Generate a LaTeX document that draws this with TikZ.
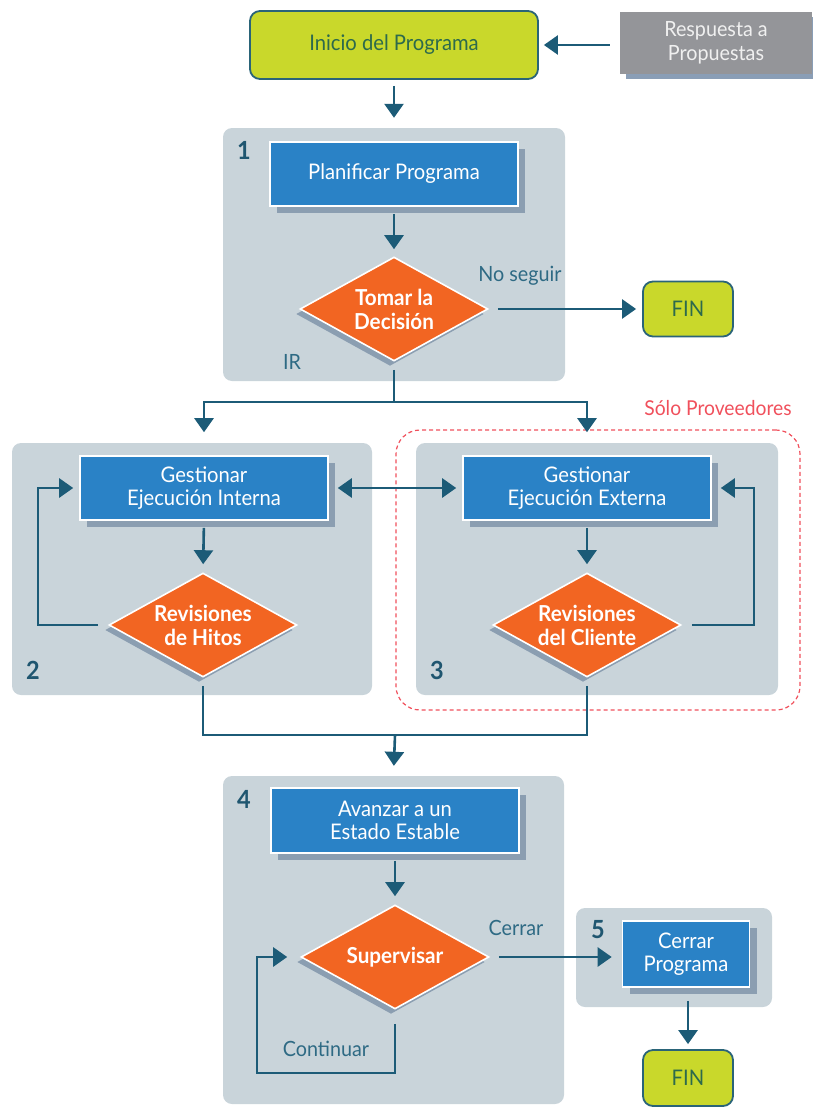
\documentclass[tikz,border=0pt]{standalone}
\usepackage{fontspec}
\newfontfamily\chartfont{Lato}[FakeStretch=0.94]
\usetikzlibrary{arrows.meta,shapes.geometric,shadows}

\definecolor{limefill}{HTML}{C9D82B}
\definecolor{limeedge}{HTML}{2A6478}
\definecolor{limetext}{HTML}{2D6A4C}
\definecolor{panelgray}{HTML}{C9D4DA}
\definecolor{procblue}{HTML}{2A82C6}
\definecolor{boxshade}{HTML}{8B9EB1}
\definecolor{decorange}{HTML}{F26522}
\definecolor{flowteal}{HTML}{1C5B77}
\definecolor{labelteal}{HTML}{2E6A84}
\definecolor{numteal}{HTML}{1F5670}
\definecolor{respgray}{HTML}{949599}
\definecolor{respshade}{HTML}{8A9EB6}
\definecolor{provred}{HTML}{F0505C}

\tikzset{
  panel/.style={fill=panelgray, rounded corners=9pt, inner sep=0pt},
  startbox/.style={draw=limeedge, line width=1.8pt, fill=limefill, rounded corners=10pt,
    text=limetext, align=center, inner sep=0pt,
    font=\chartfont\fontsize{21.5}{24}\selectfont},
  respbox/.style={fill=respgray, text=white!94!black, align=center, inner sep=0pt,
    minimum width=192pt, minimum height=62pt,
    drop shadow={shadow xshift=6pt, shadow yshift=-5pt, fill=respshade, opacity=1},
    font=\chartfont\fontsize{21}{24}\selectfont},
  procbox/.style={draw=white, line width=1.6pt, fill=procblue, text=white, align=center,
    inner sep=0pt, minimum width=248pt, minimum height=64pt,
    drop shadow={shadow xshift=7pt, shadow yshift=-7pt, fill=boxshade, opacity=1},
    font=\chartfont\fontsize{21.5}{23.5}\selectfont},
  decision/.style={diamond, aspect=1.8, draw=white, line width=1.6pt, fill=decorange,
    text=white, align=center, inner sep=0pt, minimum width=188pt, minimum height=104pt,
    drop shadow={shadow xshift=-4pt, shadow yshift=-5pt, fill=boxshade, opacity=1},
    font=\chartfont\bfseries\fontsize{22}{24}\selectfont},
  flowlabel/.style={text=labelteal, inner sep=0pt, font=\chartfont\fontsize{21}{24}\selectfont},
  stagenum/.style={text=numteal, inner sep=0pt, font=\chartfont\bfseries\fontsize{25}{25}\selectfont},
  provbox/.style={draw=provred, line width=1.2pt, dash pattern=on 4pt off 3pt,
    rounded corners=24pt, inner sep=0pt},
  flow/.style={draw=flowteal, line width=2.6pt},
  arr/.style={flow, -{Triangle[width=19pt,length=14pt]}},
  darr/.style={flow, {Triangle[width=19pt,length=14pt]}-{Triangle[width=19pt,length=14pt]}},
}

\begin{document}
\begin{tikzpicture}[x=1pt,y=-1pt]
\useasboundingbox (0,0) rectangle (813,1108);

% stage panels
\node[panel, minimum width=342pt, minimum height=253pt] (p1) at (394,254.5) {};
\node[panel, minimum width=360pt, minimum height=252pt] (p2) at (192,569) {};
\node[panel, minimum width=362pt, minimum height=252pt] (p3) at (597,569) {};
\node[panel, minimum width=341pt, minimum height=328pt] (p4) at (393.5,940) {};
\node[panel, minimum width=196pt, minimum height=99pt] (p5) at (674,957.5) {};

% suppliers-only frame
\node[provbox, minimum width=404pt, minimum height=280pt] (prov) at (598,570) {};
\node[text=provred, inner sep=0pt, font=\chartfont\fontsize{20.5}{22}\selectfont]
  (provlbl) at (718,408) {Sólo Proveedores};

% stage numbers
\node[stagenum] (n1) at (244,150) {1};
\node[stagenum] (n2) at (33,670) {2};
\node[stagenum] (n3) at (437,670) {3};
\node[stagenum] (n4) at (244,799) {4};
\node[stagenum] (n5) at (598,930) {5};

% start and inputs
\node[startbox, minimum width=288pt, minimum height=68pt] (inicio) at (394,45) {Inicio del Programa};
\node[respbox] (resp) at (716,43) {Respuesta a\\Propuestas};

% stage 1
\node[procbox] (plan) at (394,174) {Planificar Programa};
\node[decision] (dec) at (394,309) {Tomar la\\Decisión};
\node[startbox, minimum width=90pt, minimum height=55pt] (fin1) at (688,309) {FIN};
\node[flowlabel] (noseg) at (520,276) {No seguir};
\node[flowlabel] (ir) at (292,362) {IR};

% stages 2 and 3
\node[procbox] (interna) at (204,488) {Gestionar\\Ejecución Interna};
\node[decision] (hitos) at (203,625) {Revisiones\\de Hitos};
\node[procbox] (externa) at (587,488) {Gestionar\\Ejecución Externa};
\node[decision] (cliente) at (587,625) {Revisiones\\del Cliente};

% stage 4
\node[procbox, minimum height=65pt] (avanzar) at (395,820.5) {Avanzar a un\\Estado Estable};
\node[decision] (sup) at (395,957) {Supervisar};
\node[flowlabel] (cerrarlbl) at (516,928) {Cerrar};
\node[flowlabel] (contlbl) at (326,1049) {Continuar};

% stage 5
\node[procbox, minimum width=127pt, minimum height=66pt] (cerrar) at (686,954) {Cerrar\\Programa};
\node[startbox, minimum width=90pt, minimum height=56pt] (fin2) at (688,1078) {FIN};

% junction points
\coordinate (j1) at (394,402);
\coordinate (j2) at (395,735);
\coordinate (hl) at (38,625);
\coordinate (cr) at (754,625);
\coordinate (sb) at (395,1073);
\coordinate (sl) at (257,1073);

% connectors
\draw[arr, shorten <=10pt, shorten >=5pt] (resp.west |- inicio.east) -- (inicio.east);
\draw[arr, shorten <=6pt, shorten >=10pt] (inicio.south) -- (p1.north);
\draw[arr, shorten <=7pt, shorten >=7pt] (plan.south) -- (dec.north);
\draw[arr, shorten <=9pt, shorten >=6pt] (dec.east) -- (dec.east -| fin1.west);
\draw[flow, shorten <=8pt] (dec.south) -- (j1);
\draw[arr, shorten >=23pt] (j1) -| (interna.north);
\draw[arr, shorten >=23pt] (j1) -| (externa.north);

\draw[arr, shorten <=7pt, shorten >=8pt] (interna.south) -- (hitos.north);
\draw[arr, shorten <=7pt, shorten >=8pt] (externa.south) -- (cliente.north);
\draw[arr, shorten <=10pt, shorten >=6pt] (hitos.west) -- (hl) |- (interna.west);
\draw[arr, shorten <=10pt, shorten >=9pt] (cliente.east) -- (cr) |- (externa.east);
\draw[darr, shorten <=9pt, shorten >=6pt] (interna.east) -- (externa.west);

\draw[flow, shorten <=8pt] (hitos.south) |- (j2);
\draw[flow, shorten <=8pt] (cliente.south) |- (j2);
\draw[arr, shorten >=10pt] (j2) -- (p4.north);

\draw[arr, shorten <=7pt, shorten >=8pt] (avanzar.south) -- (sup.north);
\draw[arr, shorten <=9pt, shorten >=10pt] (sup.east) -- (sup.east -| cerrar.west);
\draw[arr, shorten <=14pt] (sup.south) -- (sb) -- (sl) |- ([xshift=-13pt]sup.west);
\draw[arr, shorten <=13pt, shorten >=5pt] (cerrar.south -| fin2.north) -- (fin2.north);
\end{tikzpicture}
\end{document}
